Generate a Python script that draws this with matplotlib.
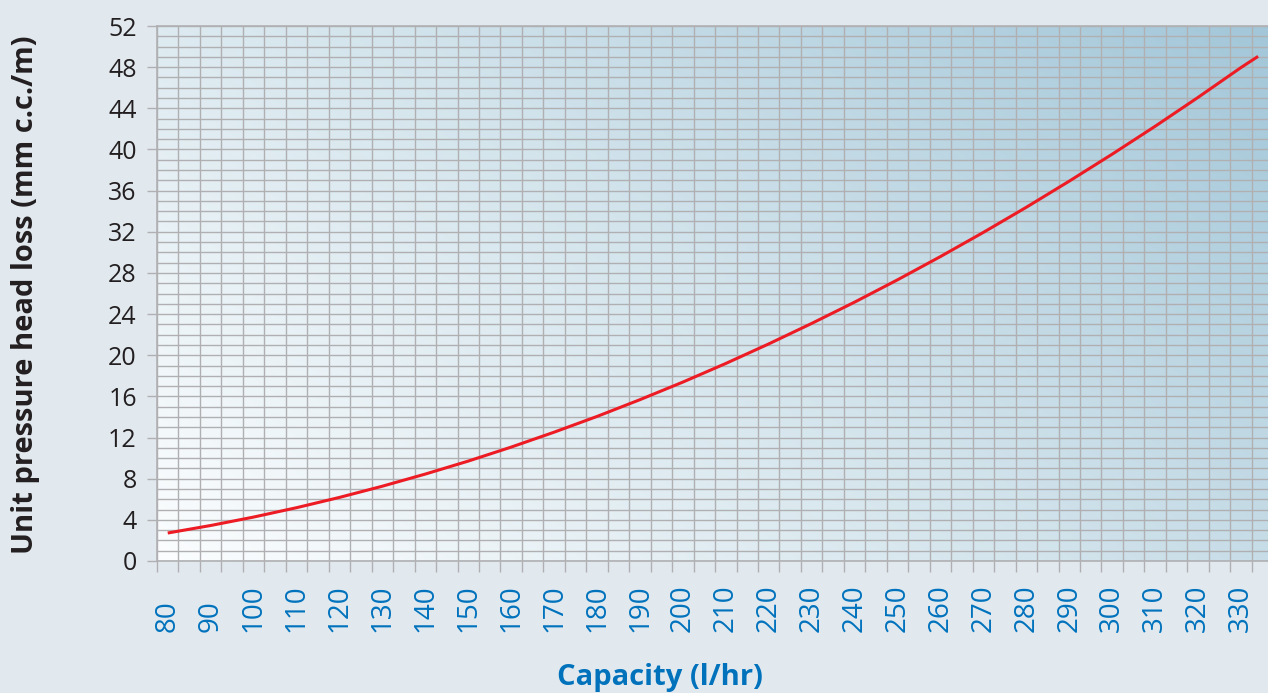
import numpy as np
import matplotlib
matplotlib.use("Agg")
import matplotlib.pyplot as plt
from matplotlib.colors import LinearSegmentedColormap

# veriler
kapasite = [80, 90, 100, 110, 120, 130, 140, 150, 160, 170, 180, 190, 200,
            210, 220, 230, 240, 250, 260, 270, 280, 290, 300, 310, 320, 330, 334]
basinc_kaybi = [2.72, 3.45, 4.27, 5.18, 6.18, 7.27, 8.45, 9.71, 11.07, 12.52, 14.05,
                15.68, 17.39, 19.20, 21.10, 23.09, 25.16, 27.33, 29.59, 31.94, 34.38,
                36.92, 39.54, 42.25, 45.06, 47.96, 49.05]

x_etiketler = list(range(80, 331, 10))
y_etiketler = list(range(0, 53, 4))

dar = ["Liberation Sans Narrow", "Open Sans", "DejaVu Sans"]

fig = plt.figure(figsize=(12.68, 6.93), dpi=100)
fig.patch.set_facecolor("#e1e9ef")
ax = fig.add_axes([157/1268, 1 - 561/693, 1 - 157/1268, (561 - 26)/693])

# arka plan gradyani (sol alt beyaz -> sag ust mavi)
gx, gy = np.meshgrid(np.linspace(0, 1, 300), np.linspace(1, 0, 200))
t = (gx * 0.75 + gy * 0.45) / 1.2
cmap = LinearSegmentedColormap.from_list("bg", ["#fbfdfe", "#d3e4ec", "#a3c7d9"])
ax.imshow(t, cmap=cmap, extent=[0, 1, 0, 1], transform=ax.transAxes,
          aspect="auto", zorder=0, interpolation="bilinear")

ax.plot(kapasite, basinc_kaybi, color="#ed1c24", lw=2.2, zorder=3,
        solid_capstyle="butt", solid_joinstyle="round")

ax.set_xlim(77.5, 336.3)
ax.set_ylim(0, 52)
ax.set_xticks(x_etiketler)
ax.set_xticklabels([str(v) for v in x_etiketler])
ax.set_xticks(np.arange(77.5, 337, 5), minor=True)
ax.set_yticks(y_etiketler)
ax.set_yticks(np.arange(0, 53, 1), minor=True)

ax.set_axisbelow(True)
gri = "#b0b0b3"
ax.grid(False)
ax.xaxis.grid(True, which="minor", color=gri, lw=1.0)
ax.yaxis.grid(True, which="both", color=gri, lw=1.0)

ax.tick_params(axis="x", which="major", length=0, pad=51,
               labelsize=20, labelcolor="#0072bc")
ax.tick_params(axis="x", which="minor", length=8, width=1.0, color=gri,
               direction="out")
ax.tick_params(axis="y", which="major", length=7.5, width=1.0, color=gri,
               pad=7, labelsize=18, labelcolor="#231f20")
ax.tick_params(axis="y", which="minor", length=0)

for lab in ax.get_xticklabels():
    lab.set_rotation(90)
    lab.set_rotation_mode("anchor")
    lab.set_ha("left")
    lab.set_va("center")
    lab.set_family(dar)
for lab in ax.get_yticklabels():
    lab.set_family(dar)

for s in ["left", "bottom", "top"]:
    ax.spines[s].set_color(gri)
    ax.spines[s].set_linewidth(1.2)
ax.spines["right"].set_visible(False)

fig.text(660/1268, 1 - 685/693, "Capacity (l/hr)", color="#0072bc",
         fontsize=21, fontweight="bold", family=dar, ha="center", va="baseline")
fig.text(26/1268, 1 - 295/693, "Unit pressure head loss (mm c.c./m)",
         color="#231f20", fontsize=21, fontweight="bold", family=dar,
         rotation=90, ha="center", va="center")

fig.savefig("out.png", dpi=100, facecolor=fig.get_facecolor())
